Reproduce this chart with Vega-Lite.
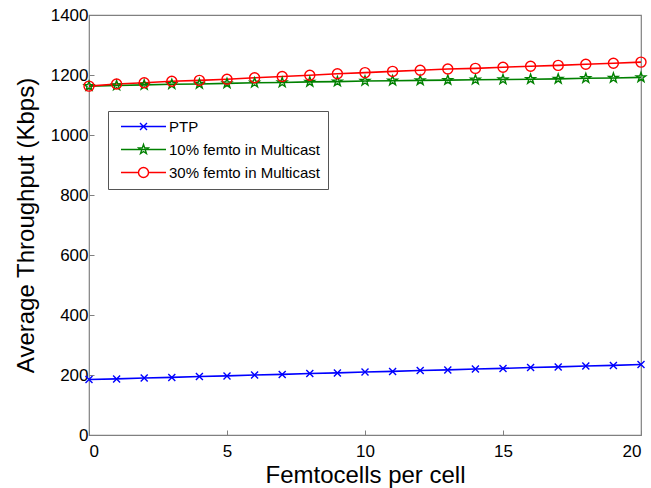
{
  "$schema": "https://vega.github.io/schema/vega-lite/v6.json",
  "width": 552,
  "height": 420,
  "padding": {"left": 14, "top": 6, "right": 8, "bottom": 2},
  "background": "white",
  "config": {
    "font": "Liberation Sans",
    "view": {"stroke": "#808080", "strokeWidth": 1.2},
    "axis": {"grid": false, "domain": false, "tickColor": "#808080", "labelColor": "black", "titleColor": "black", "labelFontSize": 17, "titleFontSize": 24, "titleFontWeight": "normal", "tickSize": -5},
    "legend": {"orient": "none", "legendX": 19, "legendY": 96, "fillColor": "white", "strokeColor": "#555", "padding": 8, "labelFontSize": 15, "labelColor": "black", "symbolSize": 100, "symbolStrokeWidth": 1.4, "symbolOpacity": 1, "rowPadding": 6, "symbolOffset": 20, "labelOffset": 18, "offset": 0}
  },
  "data": {"values": [
    {"x":0,"s":"PTP","y":185},{"x":1,"s":"PTP","y":187},{"x":2,"s":"PTP","y":190},{"x":3,"s":"PTP","y":192},{"x":4,"s":"PTP","y":195},{"x":5,"s":"PTP","y":197},{"x":6,"s":"PTP","y":200},{"x":7,"s":"PTP","y":202},{"x":8,"s":"PTP","y":205},{"x":9,"s":"PTP","y":207},{"x":10,"s":"PTP","y":210},{"x":11,"s":"PTP","y":212},{"x":12,"s":"PTP","y":215},{"x":13,"s":"PTP","y":217},{"x":14,"s":"PTP","y":220},{"x":15,"s":"PTP","y":222},{"x":16,"s":"PTP","y":225},{"x":17,"s":"PTP","y":227},{"x":18,"s":"PTP","y":230},{"x":19,"s":"PTP","y":232},{"x":20,"s":"PTP","y":235},
    {"x":0,"s":"10% femto in Multicast","y":1163},{"x":1,"s":"10% femto in Multicast","y":1165},{"x":2,"s":"10% femto in Multicast","y":1167},{"x":3,"s":"10% femto in Multicast","y":1169},{"x":4,"s":"10% femto in Multicast","y":1170},{"x":5,"s":"10% femto in Multicast","y":1172},{"x":6,"s":"10% femto in Multicast","y":1174},{"x":7,"s":"10% femto in Multicast","y":1175},{"x":8,"s":"10% femto in Multicast","y":1177},{"x":9,"s":"10% femto in Multicast","y":1178},{"x":10,"s":"10% femto in Multicast","y":1180},{"x":11,"s":"10% femto in Multicast","y":1181},{"x":12,"s":"10% femto in Multicast","y":1182},{"x":13,"s":"10% femto in Multicast","y":1183},{"x":14,"s":"10% femto in Multicast","y":1184},{"x":15,"s":"10% femto in Multicast","y":1185},{"x":16,"s":"10% femto in Multicast","y":1186},{"x":17,"s":"10% femto in Multicast","y":1187},{"x":18,"s":"10% femto in Multicast","y":1189},{"x":19,"s":"10% femto in Multicast","y":1190},{"x":20,"s":"10% femto in Multicast","y":1192},
    {"x":0,"s":"30% femto in Multicast","y":1163},{"x":1,"s":"30% femto in Multicast","y":1170},{"x":2,"s":"30% femto in Multicast","y":1174},{"x":3,"s":"30% femto in Multicast","y":1179},{"x":4,"s":"30% femto in Multicast","y":1182},{"x":5,"s":"30% femto in Multicast","y":1186},{"x":6,"s":"30% femto in Multicast","y":1191},{"x":7,"s":"30% femto in Multicast","y":1195},{"x":8,"s":"30% femto in Multicast","y":1199},{"x":9,"s":"30% femto in Multicast","y":1204},{"x":10,"s":"30% femto in Multicast","y":1208},{"x":11,"s":"30% femto in Multicast","y":1212},{"x":12,"s":"30% femto in Multicast","y":1216},{"x":13,"s":"30% femto in Multicast","y":1220},{"x":14,"s":"30% femto in Multicast","y":1222},{"x":15,"s":"30% femto in Multicast","y":1226},{"x":16,"s":"30% femto in Multicast","y":1229},{"x":17,"s":"30% femto in Multicast","y":1232},{"x":18,"s":"30% femto in Multicast","y":1236},{"x":19,"s":"30% femto in Multicast","y":1239},{"x":20,"s":"30% femto in Multicast","y":1243}
  ]},
  "encoding": {
    "x": {"field": "x", "type": "quantitative", "scale": {"domain": [0, 20], "nice": false}, "axis": {"values": [0,5,10,15,20], "title": "Femtocells per cell", "labelPadding": 13, "titlePadding": 4}},
    "y": {"field": "y", "type": "quantitative", "scale": {"domain": [0, 1400], "nice": false}, "axis": {"values": [0,200,400,600,800,1000,1200,1400], "format": "d", "title": "Average Throughput (Kbps)", "labelPadding": 6, "titlePadding": 12}}
  },
  "layer": [
    {"mark": {"type": "line", "strokeWidth": 1.6},
     "encoding": {"color": {"field": "s", "type": "nominal", "scale": {"domain": ["PTP", "10% femto in Multicast", "30% femto in Multicast"], "range": ["#0000ff", "#008000", "#ff0000"]}, "legend": null}}},
    {"mark": {"type": "point", "filled": false, "strokeWidth": 1.4, "size": 100, "opacity": 1},
     "encoding": {
       "color": {"field": "s", "type": "nominal", "scale": {"domain": ["PTP", "10% femto in Multicast", "30% femto in Multicast"], "range": ["#0000ff", "#008000", "#ff0000"]}, "legend": null},
       "shape": {"field": "s", "type": "nominal", "scale": {"domain": ["PTP", "10% femto in Multicast", "30% femto in Multicast"], "range": ["M-0.7,-0.7L0.7,0.7M-0.7,0.7L0.7,-0.7", "M0,-1L0.235,-0.324L0.951,-0.309L0.38,0.124L0.588,0.809L0,0.4L-0.588,0.809L-0.38,0.124L-0.951,-0.309L-0.235,-0.324Z", "circle"]}, "legend": null}}},
    {"mark": {"type": "point", "filled": false, "strokeWidth": 1.4, "size": 100, "opacity": 0},
     "encoding": {
       "color": {"field": "s", "type": "nominal", "scale": {"domain": ["PTP", "10% femto in Multicast", "30% femto in Multicast"], "range": ["#0000ff", "#008000", "#ff0000"]}, "legend": {"title": null}},
       "shape": {"field": "s", "type": "nominal", "scale": {"domain": ["PTP", "10% femto in Multicast", "30% femto in Multicast"], "range": ["M-4.5,0L4.5,0M-0.7,-0.7L0.7,0.7M-0.7,0.7L0.7,-0.7", "M-4.5,0L4.5,0M0,-1L0.235,-0.324L0.951,-0.309L0.38,0.124L0.588,0.809L0,0.4L-0.588,0.809L-0.38,0.124L-0.951,-0.309L-0.235,-0.324Z", "M-4.5,0L-1,0M1,0L4.5,0M1,0A1,1,0,1,1,-1,0A1,1,0,1,1,1,0"]},
         "legend": {"title": null}}
     }}
  ],
  "resolve": {"scale": {"shape": "independent", "color": "independent"}}
}
